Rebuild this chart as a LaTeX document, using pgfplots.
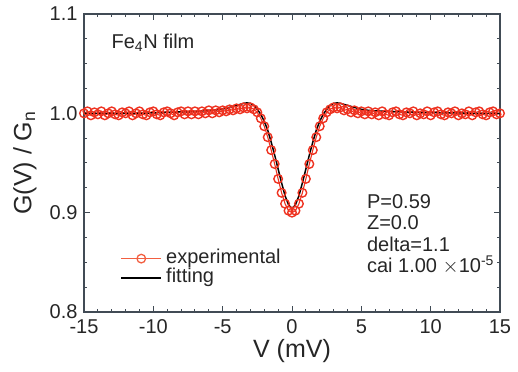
\documentclass[border=0pt]{standalone}
\usepackage{pgfplots}
\pgfplotsset{compat=1.18}
\usepackage{pgfplotstable}
\usepackage{fontspec}
\setmainfont{Liberation Sans}
\definecolor{expred}{RGB}{238,50,32}
\definecolor{legred}{RGB}{242,95,65}
\definecolor{axcol}{RGB}{65,75,85}
\pgfplotsset{
  explegend/.style={legend image code/.code={\draw[mark repeat=2,mark phase=2,##1,legred,line width=1.4bp,mark options={fill=white,line width=1.3bp}] plot coordinates {(0bp,0bp) (20bp,0bp) (40bp,0bp)};}},
  fitlegend/.style={legend image code/.code={\draw[##1,line width=1.8bp] (0bp,0bp) -- (40bp,0bp);}},
}

\pgfplotstableread{
V G
-15 1.000
-14 1.000
-13 1.000
-12 1.000
-11 1.000
-10 1.0005
-9 1.001
-8 1.0015
-7 1.002
-6 1.003
-5.5 1.0035
-5 1.0045
-4.75 1.005
-4.5 1.006
-4.25 1.007
-4 1.008
-3.75 1.009
-3.5 1.010
-3.25 1.0105
-3 1.010
-2.75 1.008
-2.5 1.004
-2.25 0.999
-2 0.992
-1.75 0.983
-1.5 0.971
-1.25 0.958
-1 0.944
-0.75 0.930
-0.5 0.917
-0.25 0.908
0 0.904
0.25 0.908
0.5 0.917
0.75 0.930
1 0.944
1.25 0.958
1.5 0.971
1.75 0.983
2 0.992
2.25 0.999
2.5 1.004
2.75 1.008
3 1.010
3.25 1.0105
3.5 1.010
3.75 1.009
4 1.008
4.25 1.007
4.5 1.006
4.75 1.005
5 1.004
5.5 1.003
6 1.0025
7 1.002
8 1.0015
9 1.001
10 1.001
11 1.0005
12 1.0005
13 1.000
14 1.000
15 1.000
}\fitdata

\pgfplotstableread{
V G
-15.00 1.000
-14.75 1.002
-14.50 0.998
-14.25 1.001
-14.00 0.999
-13.75 1.002
-13.50 0.998
-13.25 1.000
-13.00 1.002
-12.75 0.999
-12.50 0.998
-12.25 1.001
-12.00 1.000
-11.75 1.002
-11.50 0.998
-11.25 1.000
-11.00 1.002
-10.75 0.999
-10.50 0.998
-10.25 1.001
-10.00 1.002
-9.75 0.999
-9.50 0.998
-9.25 1.001
-9.00 1.002
-8.75 1.000
-8.50 0.998
-8.25 1.001
-8.00 1.002
-7.75 0.999
-7.50 1.002
-7.25 0.999
-7.00 1.002
-6.75 0.999
-6.50 1.002
-6.25 1.000
-6.00 1.003
-5.75 1.000
-5.50 1.003
-5.25 1.001
-5.00 1.003
-4.75 1.002
-4.50 1.004
-4.25 1.003
-4.00 1.005
-3.75 1.004
-3.50 1.006
-3.25 1.005
-3.00 1.006
-2.75 1.004
-2.50 1.001
-2.25 0.995
-2.00 0.987
-1.75 0.976
-1.50 0.963
-1.25 0.949
-1.00 0.934
-0.75 0.920
-0.50 0.909
-0.25 0.902
0.00 0.900
0.25 0.902
0.50 0.909
0.75 0.920
1.00 0.934
1.25 0.949
1.50 0.963
1.75 0.976
2.00 0.987
2.25 0.995
2.50 1.001
2.75 1.004
3.00 1.006
3.25 1.005
3.50 1.006
3.75 1.003
4.00 1.004
4.25 1.001
4.50 1.003
4.75 1.000
5.00 1.002
5.25 0.999
5.50 1.002
5.75 0.999
6.00 1.001
6.25 0.998
6.50 1.002
6.75 0.999
7.00 0.998
7.25 1.001
7.50 1.002
7.75 0.999
8.00 0.998
8.25 1.001
8.50 1.000
8.75 1.002
9.00 0.998
9.25 1.000
9.50 0.999
9.75 1.002
10.00 0.998
10.25 1.001
10.50 1.002
10.75 0.999
11.00 0.998
11.25 1.001
11.50 1.000
11.75 1.002
12.00 0.998
12.25 1.000
12.50 0.999
12.75 1.002
13.00 0.998
13.25 1.001
13.50 1.002
13.75 0.999
14.00 0.998
14.25 1.001
14.50 1.002
14.75 0.999
15.00 1.000
}\expdata

\begin{document}
\begin{tikzpicture}
\begin{axis}[
  name=ax,
  scale only axis,
  width=416bp, height=298bp,
  xmin=-15, xmax=15, ymin=0.8, ymax=1.1,
  xtick={-15,-10,-5,0,5,10,15},
  ytick={0.8,0.9,1.0,1.1},
  minor x tick num=4,
  minor y tick num=3,
  tick align=inside,
  xtick pos=both, ytick pos=both,
  major tick length=6bp, minor tick length=3.5bp,
  axis line style={draw=axcol, line width=1.3bp},
  every tick/.style={draw=axcol, line width=1bp},
  /pgf/number format/assume math mode=true,
  yticklabel style={/pgf/number format/fixed, /pgf/number format/fixed zerofill, /pgf/number format/precision=1},
  xticklabel style={yshift=-4bp},
  yticklabel style={xshift=-3bp},
  tick label style={font=\fontsize{20bp}{22bp}\selectfont, text=black!85},
  xlabel={V (mV)},
  ylabel={G(V) / G\textsubscript{n}},
  every axis x label/.style={at={(axis description cs:0.5,-0.13)}, anchor=center,
    font=\fontsize{25bp}{28bp}\selectfont, text=black!85},
  every axis y label/.style={at={(axis description cs:-0.142,0.5)}, rotate=90, anchor=center,
    font=\fontsize{25bp}{28bp}\selectfont, text=black!85},
  legend style={draw=none, fill=none, at={(axis description cs:0.087,0.21)}, anchor=north west,
    font=\fontsize{20bp}{22bp}\selectfont, inner sep=0pt, row sep=1bp,
    nodes={inner xsep=4bp, inner ysep=0pt, text height=14bp, text depth=4bp, text=black!85}},
  legend cell align=left,
]
\addplot[color=expred, line width=1.1bp, mark=o, mark size=4.3bp,
  mark options={fill=none, line width=1.4bp}, explegend]
  table[x=V, y=G] {\expdata};
\addlegendentry{experimental}
\addplot[color=black, line width=1.5bp, no marks, fitlegend]
  table[x=V, y=G] {\fitdata};
\addlegendentry{fitting}
\node[anchor=west, font=\fontsize{20bp}{22bp}\selectfont, text=black!85] at (axis description cs:0.058,0.903) {Fe\textsubscript{4}N film};
\node[anchor=north west, align=left, inner sep=0pt, font=\fontsize{20bp}{21.5bp}\selectfont, text=black!85] at (axis description cs:0.68,0.395) {P=0.59\\Z=0.0\\delta=1.1\\cai 1.00 $\times$10\textsuperscript{-5}};
\end{axis}
\pgfresetboundingbox
\path[use as bounding box] ([xshift=-84bp,yshift=-60bp]ax.south west) rectangle ([xshift=18bp,yshift=14bp]ax.north east);
\end{tikzpicture}
\end{document}
